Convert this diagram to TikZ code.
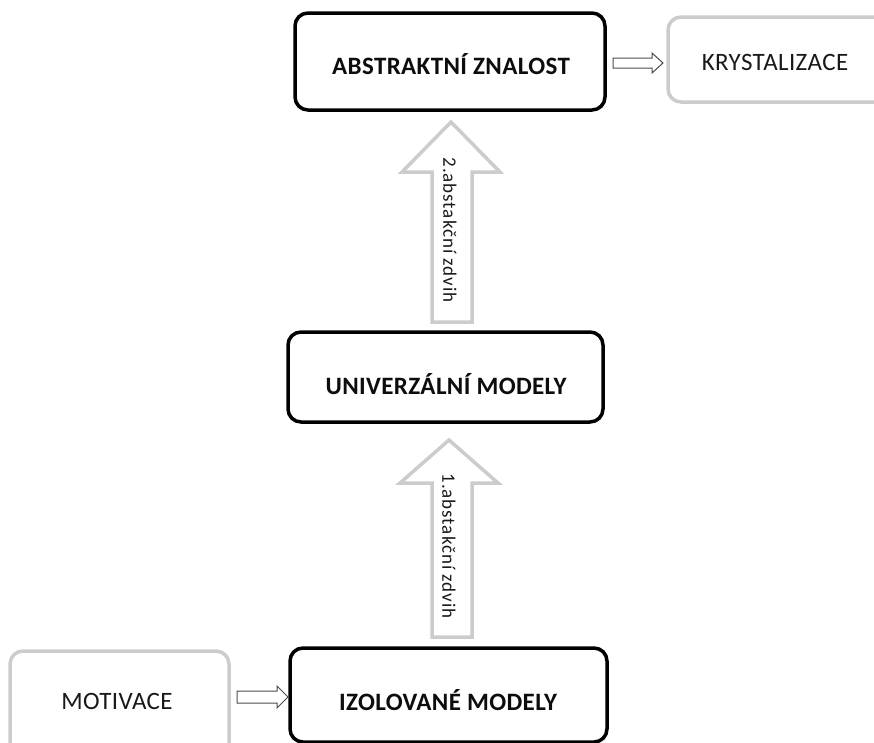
\documentclass[tikz,border=0pt]{standalone}
\usepackage{fontspec}
\setmainfont{Carlito}[LetterSpace=1.5]
\begin{document}
\begin{tikzpicture}[x=1pt,y=-1pt,
  mainbox/.style={draw=black,line width=3.5pt,rounded corners=13pt,fill=white},
  sidebox/.style={draw=black!20,line width=3.5pt,rounded corners=13pt,fill=white},
  maintext/.style={font=\fontsize{25}{28}\selectfont\bfseries,text=black!95},
  sidetext/.style={font=\fontsize{25}{28}\selectfont,text=black!90},
  bigarrow/.style={draw=black!20,line width=3.5pt,fill=white,line join=miter},
  smallarrow/.style={draw=black!70,line width=1pt,fill=white},
  arrowlabel/.style={font=\addfontfeature{LetterSpace=5}\fontsize{19}{22}\selectfont,rotate=-90,text=black!90}]
\useasboundingbox (0,0) rectangle (874,742);
\begin{scope}
\clip (0,0) rectangle (874,742);
% boxes
\draw[mainbox] (295,13) rectangle (605,110);
\node[maintext] (abs) at (451,64) {ABSTRAKTNÍ ZNALOST};
\draw[sidebox] (668,17) rectangle (900,102);
\node[sidetext] (kry) at (775,62) {KRYSTALIZACE};
\draw[mainbox] (288,332) rectangle (603,422);
\node[maintext] (uni) at (446,384) {UNIVERZÁLNÍ MODELY};
\draw[mainbox] (290,648) rectangle (607,742);
\node[maintext] (izo) at (448,700) {IZOLOVANÉ MODELY};
\draw[sidebox] (10,651) rectangle (229,760);
\node[sidetext] (mot) at (117,701) {MOTIVACE};
% big arrows
\draw[bigarrow] (451,122) -- (500,172) -- (472,172) -- (472,322) -- (432,322) -- (432,172) -- (402,172) -- cycle;
\node[arrowlabel] (l2) at (450,230) {2.abstakční zdvih};
\draw[bigarrow] (449,440) -- (498,483) -- (472,483) -- (472,637) -- (432,637) -- (432,483) -- (400,483) -- cycle;
\node[arrowlabel] (l1) at (449,546) {1.abstakční zdvih};
% small arrows
\draw[smallarrow] (613,58) -- (652,58) -- (652,53) -- (663,63) -- (652,73) -- (652,68) -- (613,68) -- cycle;
\draw[smallarrow] (237,691) -- (277,691) -- (277,686) -- (288,697) -- (277,708) -- (277,703) -- (237,703) -- cycle;
\end{scope}
\end{tikzpicture}
\end{document}
